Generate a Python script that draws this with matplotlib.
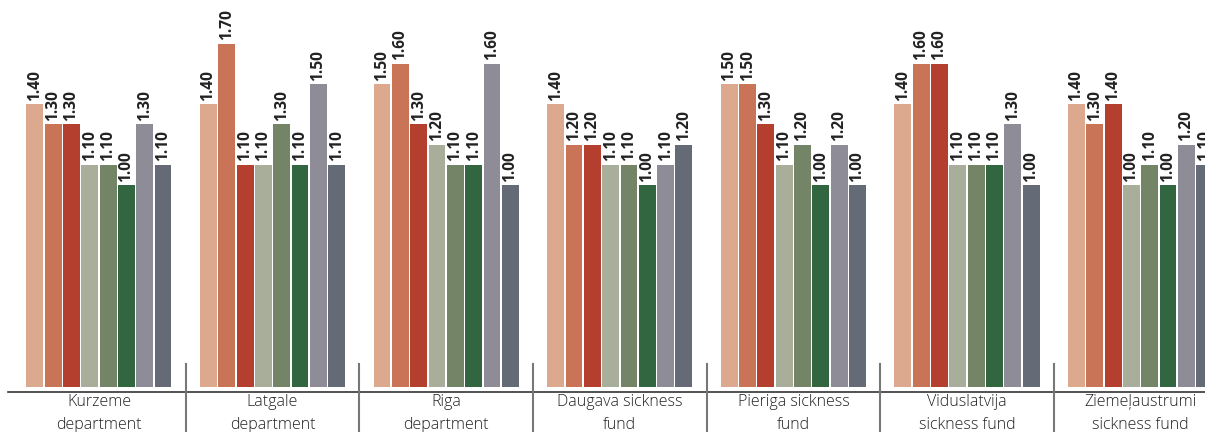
import matplotlib
matplotlib.use('Agg')
import matplotlib.pyplot as plt
import numpy as np

groups = ['Kurzeme\ndepartment', 'Latgale\ndepartment', 'Riga\ndepartment',
          'Daugava sickness\nfund', 'Pieriga sickness\nfund',
          'Viduslatvija\nsickness fund', 'Ziemeļaustrumi\nsickness fund']

kurzeme = [1.4, 1.3, 1.3, 1.1, 1.1, 1.0, 1.3, 1.1]
latgale = [1.4, 1.7, 1.1, 1.1, 1.3, 1.1, 1.5, 1.1]
riga = [1.5, 1.6, 1.3, 1.2, 1.1, 1.1, 1.6, 1.0]
daugava = [1.4, 1.2, 1.2, 1.1, 1.1, 1.0, 1.1, 1.2]
pieriga = [1.5, 1.5, 1.3, 1.1, 1.2, 1.0, 1.2, 1.0]
viduslatvija = [1.4, 1.6, 1.6, 1.1, 1.1, 1.1, 1.3, 1.0]
ziemelaustrumi = [1.4, 1.3, 1.4, 1.0, 1.1, 1.0, 1.2, 1.1]

values = [kurzeme, latgale, riga, daugava, pieriga, viduslatvija, ziemelaustrumi]
colors = ['#dca98f', '#c97456', '#b53f2e', '#a9ae9b',
          '#738566', '#316640', '#8e8c96', '#646a76']

fig = plt.figure(figsize=(12.05, 4.32), dpi=100)
ax = fig.add_axes([0, 45 / 432, 1, 387 / 432])
ax.set_xlim(-0.570, 6.371)
ax.set_ylim(0, 1.916)
ax.axis('off')

step = 0.1055
x = np.arange(len(groups))
for j in range(8):
    vals = [v[j] for v in values]
    pos = x + (j - 3.5) * step
    ax.bar(pos, vals, width=0.097, color=colors[j])
    for xp, val in zip(pos, vals):
        ax.annotate('%.2f' % val, (xp, val), xytext=(0, 2.5), textcoords='offset points',
                    rotation=90, ha='center', va='bottom', fontsize=11.2,
                    fontweight='bold', family='Open Sans', color='#222222')

# baseline and separators
ax.plot([-0.524, 6.371], [-0.025, -0.025], color='#333333', lw=1.2, clip_on=False)
for i in range(len(groups) - 1):
    ax.plot([i + 0.5, i + 0.5], [0.114, -0.23], color='#777777', lw=1.5, clip_on=False)

for i, g in enumerate(groups):
    ax.text(i, -0.130, g, ha='center', va='center', fontsize=11.5,
            family='Open Sans', fontweight='light', color='#222222', linespacing=1.55)

fig.savefig('out.png', dpi=100)
